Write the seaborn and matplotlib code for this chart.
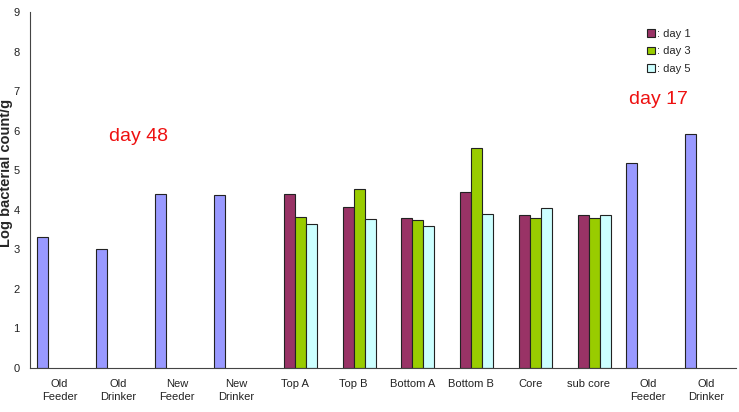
import pandas as pd
import matplotlib.pyplot as plt
import seaborn as sns
import numpy as np

# categories (keys unique, labels shown on the axis)
sites = ["OF48", "OD48", "NF", "ND", "TopA", "TopB", "BotA", "BotB", "Core", "SubCore", "OF17", "OD17"]
site_labels = ["Old\nFeeder", "Old\nDrinker", "New\nFeeder", "New\nDrinker", "Top A", "Top B",
               "Bottom A", "Bottom B", "Core", "sub core", "Old\nFeeder", "Old\nDrinker"]

# single-sample sites (day 48 on the left, day 17 on the right)
single_sites = ["OF48", "OD48", "NF", "ND", "OF17", "OD17"]
single_vals = [3.31, 3.02, 4.40, 4.38, 5.18, 5.91]

# litter sites sampled on day 1, 3, 5
litter_sites = ["TopA", "TopB", "BotA", "BotB", "Core", "SubCore"]
day1 = [4.39, 4.07, 3.79, 4.44, 3.87, 3.87]
day3 = [3.82, 4.53, 3.75, 5.55, 3.80, 3.79]
day5 = [3.65, 3.77, 3.59, 3.90, 4.05, 3.88]

series = ["single", "day 1", "day 3", "day 5"]
colors = ["#9999FF", "#993366", "#99CC00", "#CCFFFF"]

rows = [(s, "single", v) for s, v in zip(single_sites, single_vals)]
for name, vals in zip(series[1:], [day1, day3, day5]):
    rows += [(s, name, v) for s, v in zip(litter_sites, vals)]
df = pd.DataFrame(rows, columns=["site", "series", "value"])

sns.set_style("white")
plt.rcParams['font.family'] = ['Liberation Sans', 'DejaVu Sans']

fig = plt.figure(figsize=(7.39, 4.12), dpi=100)
ax = fig.add_axes([30/739, 1-368/412, 706/739, 356/412])

sns.barplot(data=df, x="site", y="value", hue="series", order=sites, hue_order=series,
            palette=colors, saturation=1, width=0.75, edgecolor="#222222", linewidth=0.8,
            errorbar=None, legend=False, ax=ax)

ax.set_xlim(-0.5, len(sites) - 0.5)
ax.set_ylim(0, 9)
ax.set_yticks(range(10))
ax.set_xticks(range(len(sites)))
ax.set_xticklabels(site_labels, fontsize=8, color="#222222", linespacing=1.35)
ax.set_xticks(np.arange(-0.5, len(sites)), minor=True)
ax.tick_params(axis="x", which="major", length=0, pad=8)
ax.tick_params(axis="x", which="minor", length=4, width=0.8, direction="in", color="#444444")
ax.tick_params(axis="y", labelsize=8, length=4, width=0.8, direction="out", labelcolor="#222222", color="#444444")
ax.set_xlabel("")
ax.set_ylabel("Log bacterial count/g", fontsize=10.5, fontweight="bold", va="center")
ax.yaxis.set_label_coords(-0.034, 0.548)
for side in ["top", "right"]:
    ax.spines[side].set_visible(False)
for side in ["left", "bottom"]:
    ax.spines[side].set_color("#444444")
    ax.spines[side].set_linewidth(0.8)

ax.legend(ax.containers[1:], [": day 1", ": day 3", ": day 5"], loc="upper right",
          bbox_to_anchor=(0.95, 0.98), frameon=False, fontsize=8, handlelength=0.7,
          handleheight=0.7, handletextpad=0.2, labelspacing=0.65)

ax.text(1.34, 5.84, "day 48", color="#EE1111", fontsize=14, ha="center", va="center")
ax.text(10.19, 6.78, "day 17", color="#EE1111", fontsize=14, ha="center", va="center")

fig.savefig("out.png", dpi=100)
